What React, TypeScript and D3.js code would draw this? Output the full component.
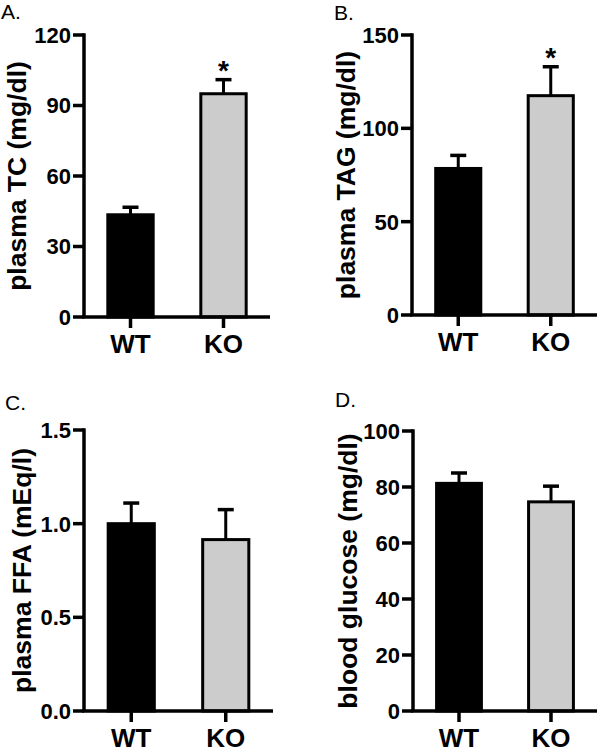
import React from "react";
import * as d3 from "d3";

const categories = ["WT", "KO"];

const tcMeans = [43.5, 95];
const tcErrors = [3.2, 6];
const tcStars = [false, true];
const tcTicks = [0, 30, 60, 90, 120];

const tagMeans = [78.5, 117.5];
const tagErrors = [7, 15.5];
const tagStars = [false, true];
const tagTicks = [0, 50, 100, 150];

const ffaMeans = [1.0, 0.915];
const ffaErrors = [0.11, 0.16];
const ffaStars = [false, false];
const ffaTicks = [0, 0.5, 1.0, 1.5];

const gluMeans = [81.3, 74.7];
const gluErrors = [3.7, 5.6];
const gluStars = [false, false];
const gluTicks = [0, 20, 40, 60, 80, 100];

const FONT = "'Liberation Sans', Arial, Helvetica, sans-serif";
const fills = ["#000000", "#cccccc"];

type PanelProps = {
  letter: string;
  label: string;
  means: number[];
  errors: number[];
  stars: boolean[];
  ticks: number[];
  fmt: (d: number) => string;
  x0: number;
  x1: number;
  yTop: number;
  yBot: number;
  labelX: number;
  letterX: number;
  letterY: number;
};

function Panel(p: PanelProps) {
  const yMax = p.ticks[p.ticks.length - 1];
  const y = d3.scaleLinear().domain([0, yMax]).range([p.yBot, p.yTop]);
  const x = d3
    .scaleBand<string>()
    .domain(categories)
    .range([p.x0, p.x1])
    .paddingInner(0.48)
    .paddingOuter(0.24);
  const bw = x.bandwidth();
  const capW = 16;
  return (
    <g>
      <text x={p.letterX} y={p.letterY} fontFamily={FONT} fontSize={21} fill="#000">
        {p.letter}
      </text>
      <text
        transform={`translate(${p.labelX},${(p.yTop + p.yBot) / 2}) rotate(-90)`}
        textAnchor="middle"
        fontFamily={FONT}
        fontWeight="bold"
        fontSize={26.5}
        fill="#000"
      >
        {p.label}
      </text>
      {categories.map((c, i) => {
        const cx = (x(c) as number) + bw / 2;
        const top = y(p.means[i]);
        const errTop = y(p.means[i] + p.errors[i]);
        return (
          <g key={c}>
            <line x1={cx} x2={cx} y1={top} y2={errTop} stroke="#000" strokeWidth={3} />
            <line
              x1={cx - capW / 2}
              x2={cx + capW / 2}
              y1={errTop}
              y2={errTop}
              stroke="#000"
              strokeWidth={3.5}
            />
            <rect
              x={(x(c) as number) + 1.5}
              y={top}
              width={bw - 3}
              height={p.yBot - top}
              fill={fills[i]}
              stroke="#000"
              strokeWidth={3}
            />
            {p.stars[i] && (
              <text
                x={cx}
                y={errTop}
                textAnchor="middle"
                fontFamily={FONT}
                fontWeight="bold"
                fontSize={28}
                fill="#000"
              >
                *
              </text>
            )}
            <line x1={cx} x2={cx} y1={p.yBot} y2={p.yBot + 11} stroke="#000" strokeWidth={3.5} />
            <text
              x={cx}
              y={p.yBot + 36}
              textAnchor="middle"
              fontFamily={FONT}
              fontWeight="bold"
              fontSize={26}
              fill="#000"
            >
              {c}
            </text>
          </g>
        );
      })}
      <line x1={p.x0} x2={p.x0} y1={p.yTop - 1.75} y2={p.yBot} stroke="#000" strokeWidth={3.5} />
      <line x1={p.x0 - 1.75} x2={p.x1} y1={p.yBot} y2={p.yBot} stroke="#000" strokeWidth={3.5} />
      {p.ticks.map((t) => (
        <g key={t}>
          <line x1={p.x0 - 11} x2={p.x0} y1={y(t)} y2={y(t)} stroke="#000" strokeWidth={3.5} />
          <text
            x={p.x0 - 13}
            y={y(t)}
            dy="0.36em"
            textAnchor="end"
            fontFamily={FONT}
            fontWeight="bold"
            fontSize={22}
            fill="#000"
          >
            {p.fmt(t)}
          </text>
        </g>
      ))}
    </g>
  );
}

export default function App() {
  const intFmt = d3.format("d");
  const decFmt = d3.format(".1f");
  return (
    <svg
      width={602}
      height={749}
      style={{ position: "absolute", left: 0, top: 0, background: "#fff" }}
    >
      <rect width={602} height={749} fill="#fff" />
      <Panel
        letter="A."
        label="plasma TC (mg/dl)"
        means={tcMeans}
        errors={tcErrors}
        stars={tcStars}
        ticks={tcTicks}
        fmt={intFmt}
        x0={84}
        x1={270}
        yTop={35}
        yBot={317}
        labelX={26}
        letterX={1}
        letterY={19}
      />
      <Panel
        letter="B."
        label="plasma TAG (mg/dl)"
        means={tagMeans}
        errors={tagErrors}
        stars={tagStars}
        ticks={tagTicks}
        fmt={intFmt}
        x0={412}
        x1={597}
        yTop={35}
        yBot={315}
        labelX={355}
        letterX={334}
        letterY={20}
      />
      <Panel
        letter="C."
        label="plasma FFA (mEq/l)"
        means={ffaMeans}
        errors={ffaErrors}
        stars={ffaStars}
        ticks={ffaTicks}
        fmt={decFmt}
        x0={84}
        x1={273}
        yTop={430}
        yBot={711}
        labelX={31}
        letterX={5}
        letterY={410}
      />
      <Panel
        letter="D."
        label="blood glucose (mg/dl)"
        means={gluMeans}
        errors={gluErrors}
        stars={gluStars}
        ticks={gluTicks}
        fmt={intFmt}
        x0={413}
        x1={597}
        yTop={431}
        yBot={711}
        labelX={357}
        letterX={335}
        letterY={407}
      />
    </svg>
  );
}
